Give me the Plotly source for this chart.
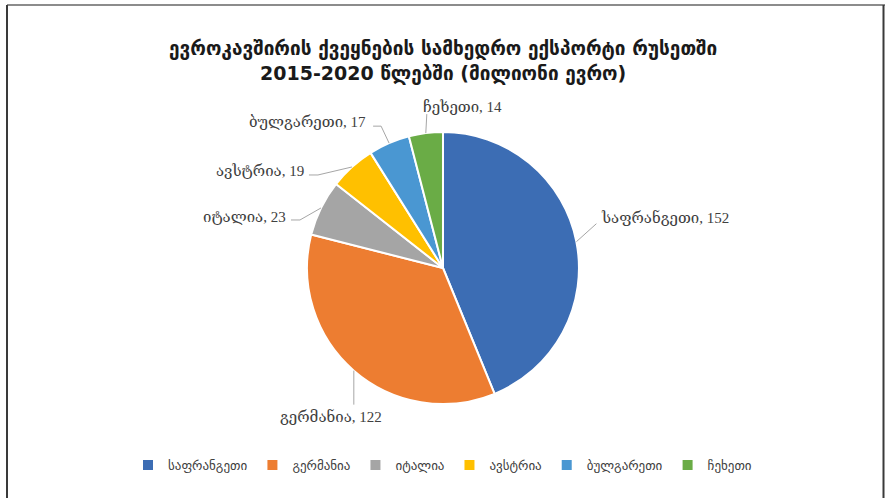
import math
import plotly.graph_objects as go

# ---- data ----
countries = ["საფრანგეთი", "გერმანია", "იტალია", "ავსტრია", "ბულგარეთი", "ჩეხეთი"]
values = [152, 122, 23, 19, 17, 14]
title_line1 = "ევროკავშირის ქვეყნების სამხედრო ექსპორტი რუსეთში"
title_line2 = "2015-2020 წლებში (მილიონი ევრო)"

# ---- style ----
colors = ["#3C6DB4", "#ED7D31", "#A5A5A5", "#FFC000", "#4A97D2", "#6AAC46"]
W, H = 885, 498
dom_x = [0.3469, 0.6542]
dom_y = [0.1888, 0.7349]
# per-label leader knee offsets (px from slice edge) and text placement
knee = [(20, -18), (0, 34), (-21, 12), (-34, 8), (-8, -17), (1, -19)]
tail = [0, 0, -9, -9, -8, 0]            # horizontal tail after knee
txt_anchor = [("left", 3, -6), ("center", -23, 12), ("right", -3, -3),
              ("right", -3, -4), ("right", -5, -4), ("left", -6, -7)]

fig = go.Figure(go.Pie(
    labels=countries, values=values, sort=False, direction="clockwise",
    rotation=0, textinfo="none", hoverinfo="label+value",
    marker=dict(colors=colors, line=dict(color="white", width=2)),
    domain=dict(x=dom_x, y=dom_y),
))

# geometry of pie in pixels (derived from domain)
cx = (dom_x[0] + dom_x[1]) / 2 * W
cy = (1 - (dom_y[0] + dom_y[1]) / 2) * H
r = min((dom_x[1] - dom_x[0]) * W, (dom_y[1] - dom_y[0]) * H) / 2

def px2paper(px, py):
    return px / W, 1 - py / H

total = sum(values)
cum = 0
shapes = []
annotations = []
for i, (c, v) in enumerate(zip(countries, values)):
    mid = (cum + v / 2) / total * 2 * math.pi
    cum += v
    ex = cx + r * math.sin(mid)
    ey = cy - r * math.cos(mid)
    kx, ky = ex + knee[i][0], ey + knee[i][1]
    tx, ty = kx + tail[i], ky
    pts = [px2paper(ex, ey), px2paper(kx, ky), px2paper(tx, ty)]
    path = "M {} {} L {} {} L {} {}".format(pts[0][0], pts[0][1], pts[1][0], pts[1][1], pts[2][0], pts[2][1])
    shapes.append(dict(type="path", xref="paper", yref="paper", path=path,
                       line=dict(color="#A6A6A6", width=1)))
    anc, dx, dy = txt_anchor[i]
    ax_, ay_ = px2paper(tx + dx, ty + dy)
    annotations.append(dict(
        x=ax_, y=ay_, xref="paper", yref="paper", showarrow=False,
        xanchor=anc, yanchor="middle",
        text=f"{c}, {v}",
        font=dict(family="Liberation Serif, DejaVu Serif, serif", size=15, color="#404040"),
    ))

# title
annotations.append(dict(
    x=0.5, y=1 - 61 / H, xref="paper", yref="paper", showarrow=False,
    xanchor="center", yanchor="middle",
    text=f"<b>{title_line1}</b><br><b>{title_line2}</b>",
    font=dict(family="DejaVu Sans, sans-serif", size=19, color="#1a1a1a"),
))

# frame lines
shapes += [
    dict(type="line", xref="paper", yref="paper", x0=7 / W, x1=1, y0=1 - 5 / H, y1=1 - 5 / H,
         line=dict(color="#8C8C8C", width=2)),
    dict(type="line", xref="paper", yref="paper", x0=7 / W, x1=7 / W, y0=0, y1=1 - 5 / H,
         line=dict(color="#3A3A3A", width=2)),
    dict(type="line", xref="paper", yref="paper", x0=1 - 1.5 / W, x1=1 - 1.5 / W, y0=0, y1=1 - 5 / H,
         line=dict(color="#3A3A3A", width=2)),
]

fig.update_layout(
    width=W, height=H,
    margin=dict(l=0, r=0, t=0, b=0),
    paper_bgcolor="white", plot_bgcolor="white",
    showlegend=True,
    legend=dict(orientation="h", x=0.5, xanchor="center", y=1 - 465 / H, yanchor="middle",
                font=dict(family="DejaVu Sans, sans-serif", size=13, color="#404040"),
                itemwidth=30, traceorder="normal"),
    shapes=shapes, annotations=annotations,
)

fig.write_html("out.html", config={"displayModeBar": False},
               post_script="document.body.style.margin='0';document.body.style.overflow='hidden';")
